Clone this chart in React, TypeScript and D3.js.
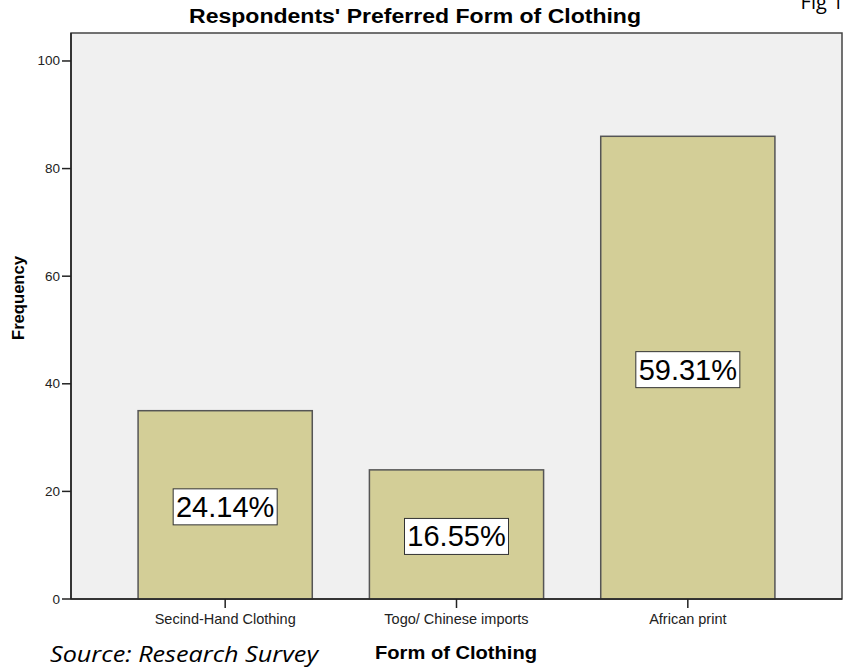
import React from "react";
import * as d3 from "d3";

const categories = ["Secind-Hand Clothing", "Togo/ Chinese imports", "African print"];
const frequencies = [35, 24, 86];
const percentLabels = ["24.14%", "16.55%", "59.31%"];
const yTicks = [0, 20, 40, 60, 80, 100];

const W = 844;
const H = 668;
const plotLeft = 71;
const plotRight = 842;
const plotTop = 33;
const plotBottom = 599;

export default function App() {
  const x = d3
    .scaleBand<string>()
    .domain(categories)
    .range([plotLeft, plotRight])
    .paddingInner(0.247)
    .paddingOuter(0.29);
  const y = d3.scaleLinear().domain([0, 105.2]).range([plotBottom, plotTop]);
  const font = "'Liberation Sans', Arial, sans-serif";

  return (
    <div style={{ position: "absolute", left: 0, top: 0 }}>
      <svg width={W} height={H} style={{ display: "block", background: "#fff" }}>
        <text x={822} y={9} fontFamily="'Open Sans', sans-serif" fontSize={20} fill="#000" textAnchor="middle">
          Fig 1
        </text>
        <text
          x={415}
          y={23}
          fontFamily={font}
          fontWeight="bold"
          fontSize={20}
          textAnchor="middle"
          fill="#000"
          textLength={452}
          lengthAdjust="spacingAndGlyphs"
        >
          Respondents' Preferred Form of Clothing
        </text>
        <rect
          x={plotLeft}
          y={plotTop}
          width={plotRight - plotLeft}
          height={plotBottom - plotTop}
          fill="#f0f0f0"
          stroke="#444"
          strokeWidth={1.5}
        />
        {categories.map((c, i) => {
          const bx = x(c)!;
          const bw = x.bandwidth();
          const by = y(frequencies[i]);
          const bh = plotBottom - by;
          const cx = bx + bw / 2;
          const cy = by + bh / 2 + 2;
          return (
            <g key={c}>
              <rect x={bx} y={by} width={bw} height={bh} fill="#d3ce97" stroke="#555" strokeWidth={1.5} />
              <rect x={cx - 52} y={cy - 18} width={104} height={36} fill="#fff" stroke="#333" strokeWidth={1} />
              <text x={cx} y={cy + 10} textAnchor="middle" fontFamily={font} fontSize={29} fill="#000">
                {percentLabels[i]}
              </text>
              <line x1={cx} x2={cx} y1={plotBottom} y2={plotBottom + 9} stroke="#222" strokeWidth={1.5} />
              <text x={cx} y={624} textAnchor="middle" fontFamily={font} fontSize={14.5} fill="#222">
                {c}
              </text>
            </g>
          );
        })}
        <line x1={plotLeft} x2={plotLeft} y1={plotTop} y2={plotBottom} stroke="#222" strokeWidth={1.5} />
        <line x1={plotLeft} x2={plotRight} y1={plotBottom} y2={plotBottom} stroke="#222" strokeWidth={1.5} />
        {yTicks.map((t) => (
          <g key={t}>
            <line x1={plotLeft - 9} x2={plotLeft} y1={y(t)} y2={y(t)} stroke="#222" strokeWidth={1.5} />
            <text x={plotLeft - 11} y={y(t) + 4.5} textAnchor="end" fontFamily={font} fontSize={13.5} fill="#222">
              {t}
            </text>
          </g>
        ))}
        <text
          transform={`translate(24, 298) rotate(-90)`}
          textAnchor="middle"
          fontFamily={font}
          fontWeight="bold"
          fontSize={17}
          fill="#000"
          textLength={84}
          lengthAdjust="spacingAndGlyphs"
        >
          Frequency
        </text>
        <text
          x={456}
          y={659}
          textAnchor="middle"
          fontFamily={font}
          fontWeight="bold"
          fontSize={18}
          fill="#000"
          textLength={162}
          lengthAdjust="spacingAndGlyphs"
        >
          Form of Clothing
        </text>
        <text
          x={50}
          y={662}
          fontFamily="'Open Sans', sans-serif"
          fontStyle="italic"
          fontSize={22}
          fill="#000"
          textLength={268}
          lengthAdjust="spacingAndGlyphs"
        >
          Source:  Research Survey
        </text>
      </svg>
    </div>
  );
}
